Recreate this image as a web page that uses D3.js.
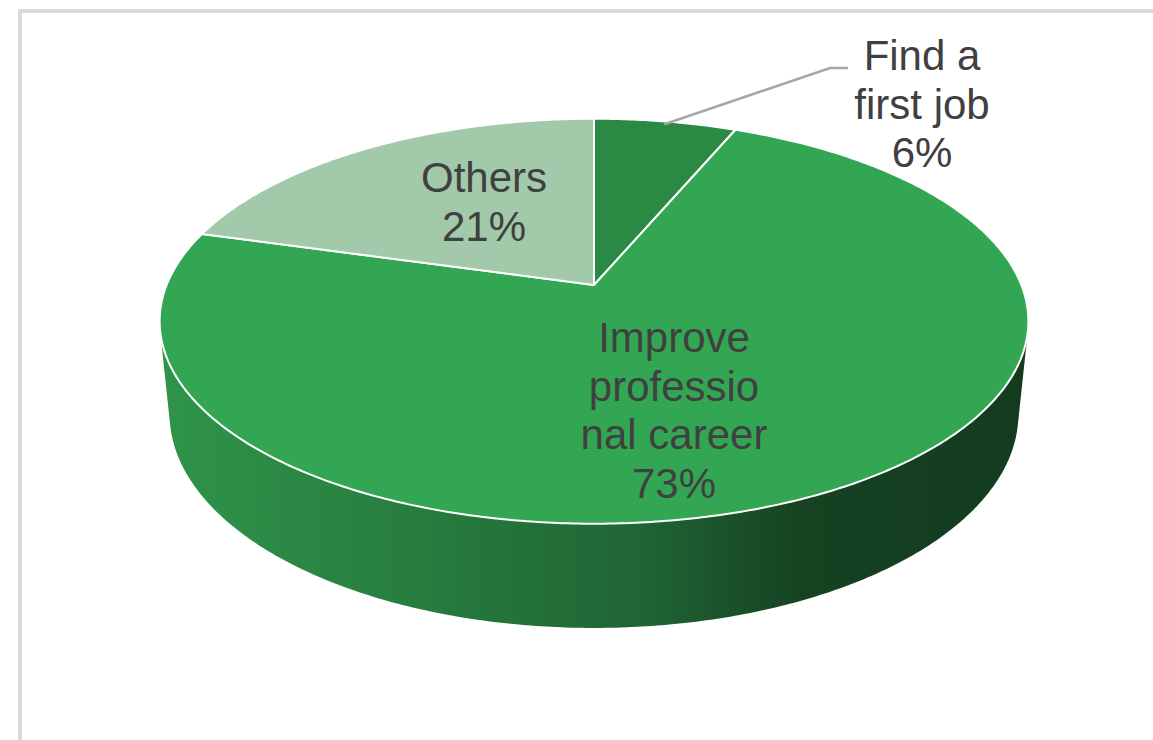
<!DOCTYPE html>
<html>
<head>
<meta charset="utf-8">
<script src="https://cdn.jsdelivr.net/npm/d3@7"></script>
<style>
  html, body { margin: 0; padding: 0; background: #fff; }
  svg { display: block; }
  text { font-family: "Liberation Sans", Arial, sans-serif; }
</style>
</head>
<body>
<div id="chart"></div>
<script>
// chart data (shares in %, labels show them rounded)
const categories = ["Find a first job", "Improve professional career", "Others"];
const values = [6.3, 73.1, 20.6];
const labelLines = [["Find a", "first job", "6%"], ["Improve", "professio", "nal career", "73%"], ["Others", "21%"]];
const topColors = ["#2a8a44", "#33a654", "#a2c9a9"];

const width = 1153, height = 740;

// perspective camera (pie radius = 1)
const cx = 594, cy = 285;
const tilt = 27.3 * Math.PI / 180;
const dist = 4.97, focal = 2124, depth = 0.246;

// alpha measured clockwise from the back of the pie, h = height (0 = top face)
function project(alpha, r, h) {
    const x = r * Math.sin(alpha);
    const z = -r * Math.cos(alpha);
    const t = dist - h * Math.sin(tilt) - z * Math.cos(tilt);
    return [cx + focal * x / t, cy - focal * (h * Math.cos(tilt) - z * Math.sin(tilt)) / t];
}

function arcPoints(a0, a1, r, h) {
    const n = Math.max(2, Math.ceil(Math.abs(a1 - a0) / 0.01));
    return d3.range(n + 1).map(i => project(a0 + (a1 - a0) * i / n, r, h));
}

const line = d3.line();

const svg = d3.select("#chart").append("svg")
    .attr("width", width)
    .attr("height", height);

// chart frame (only top and left visible)
svg.append("path")
    .attr("d", `M20,${height} V11 H${width}`)
    .attr("fill", "none")
    .attr("stroke", "#d9d9d9")
    .attr("stroke-width", 4);

const defs = svg.append("defs");
const grad = defs.append("linearGradient")
    .attr("id", "wall")
    .attr("gradientUnits", "userSpaceOnUse")
    .attr("x1", 160).attr("x2", 1030).attr("y1", 0).attr("y2", 0);
[[0, "#2f944a"], [0.3, "#277c3e"], [0.55, "#206535"], [0.74, "#164222"], [1, "#133b1e"]]
    .forEach(([o, c]) => grad.append("stop").attr("offset", o).attr("stop-color", c));

const arcs = d3.pie().sort(null).startAngle(0).endAngle(2 * Math.PI)(values);

// front wall: visible between the two silhouette angles
const aSil = Math.acos(-1 / (dist * Math.cos(tilt)));
const wallPts = arcPoints(aSil, 2 * Math.PI - aSil, 1, 0)
    .concat(arcPoints(2 * Math.PI - aSil, aSil, 1, -depth));
svg.append("path")
    .attr("d", line(wallPts) + "Z")
    .attr("fill", "url(#wall)");

// top face slices
svg.append("g").selectAll("path")
    .data(arcs)
    .join("path")
    .attr("d", d => line([project(0, 0, 0)].concat(arcPoints(d.startAngle, d.endAngle, 1, 0))) + "Z")
    .attr("fill", (d, i) => topColors[i])
    .attr("stroke", "#fff")
    .attr("stroke-width", 2)
    .attr("stroke-linejoin", "round");

// leader line for the small slice
const mid0 = (arcs[0].startAngle + arcs[0].endAngle) / 2;
svg.append("path")
    .attr("d", line([project(mid0, 0.98, 0), [830, 68], [848, 68]]))
    .attr("fill", "none")
    .attr("stroke", "#a6a6a6")
    .attr("stroke-width", 2.5);

// data labels
const labelPos = [[922, 70], [674, 352], [484, 192]];
const lineStep = 48.5;
const labels = svg.append("g")
    .attr("font-size", 42)
    .attr("fill", "#404040")
    .attr("text-anchor", "middle");
labelLines.forEach((lines, i) => {
    const t = labels.append("text")
        .attr("x", labelPos[i][0])
        .attr("y", labelPos[i][1]);
    lines.forEach((s, j) => {
        t.append("tspan")
            .attr("x", labelPos[i][0])
            .attr("dy", j === 0 ? 0 : lineStep)
            .text(s);
    });
});
</script>
</body>
</html>
